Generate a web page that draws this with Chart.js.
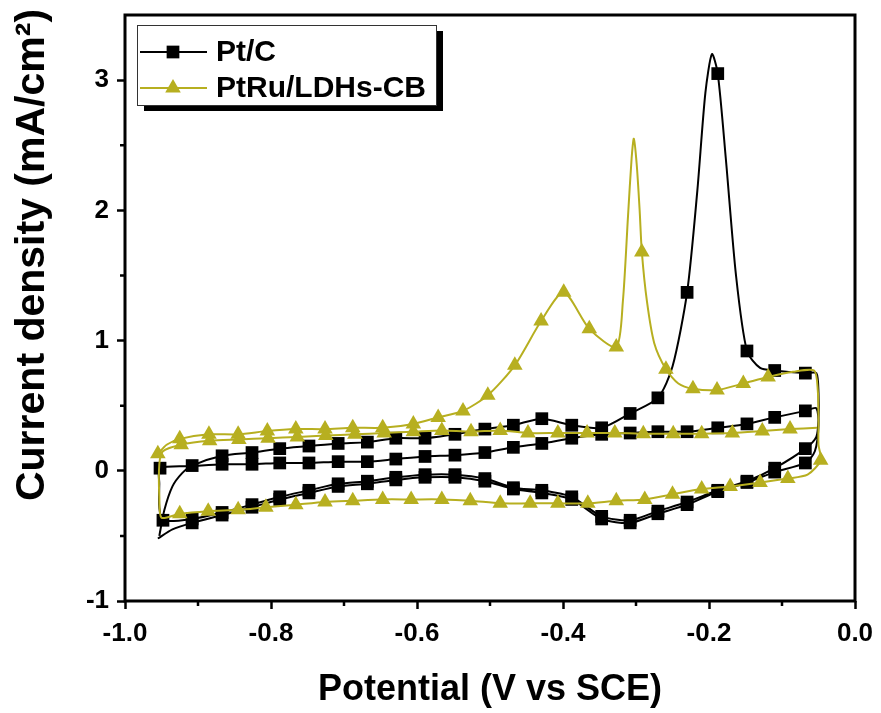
<!DOCTYPE html>
<html>
<head>
<meta charset="utf-8">
<script src="https://cdn.jsdelivr.net/npm/chart.js@4.4.0/dist/chart.umd.min.js"></script>
<style>
html,body{margin:0;padding:0;background:#fff;}
#wrap{width:881px;height:713px;position:relative;}
</style>
</head>
<body>
<div id="wrap"><canvas id="c" width="881" height="713"></canvas></div>
<script>
// ---------- data ----------
const seriesNames = ['Pt/C', 'PtRu/LDHs-CB'];
const xTitle = 'Potential (V vs SCE)';
const yTitle = 'Current density (mA/cm\u00B2)';
const xTicks = [-1.0, -0.8, -0.6, -0.4, -0.2, 0.0];
const xTickLabels = ['-1.0', '-0.8', '-0.6', '-0.4', '-0.2', '0.0'];
const yTicks = [-1, 0, 1, 2, 3];
const yTickLabels = ['-1', '0', '1', '2', '3'];
const xMinorTicks = [-0.9, -0.7, -0.5, -0.3, -0.1];
const yMinorTicks = [-0.5, 0.5, 1.5, 2.5];

// Pt/C : potential (V), current density (mA/cm2), 1 = symbol drawn at this sample
const ptcV = [-0.953,-0.946,-0.935,-0.922,-0.908,-0.867,-0.826,-0.788,-0.748,-0.708,-0.668,-0.629,-0.589,-0.548,-0.507,-0.468,-0.429,-0.388,-0.347,-0.308,-0.270,-0.250,-0.230,-0.216,-0.205,-0.196,-0.188,-0.177,-0.163,-0.148,-0.130,-0.110,-0.068,-0.053,-0.050,-0.050,-0.053,-0.068,-0.110,-0.148,-0.188,-0.230,-0.270,-0.308,-0.347,-0.388,-0.429,-0.468,-0.507,-0.548,-0.589,-0.629,-0.668,-0.708,-0.748,-0.788,-0.826,-0.867,-0.908,-0.948,-0.953,-0.953,-0.952,
  -0.908,-0.867,-0.826,-0.788,-0.748,-0.708,-0.668,-0.629,-0.589,-0.548,-0.507,-0.468,-0.429,-0.388,-0.347,-0.308,-0.270,-0.230,-0.188,-0.148,-0.110,-0.068,-0.053,-0.050,-0.055,-0.068,
  -0.110,-0.148,-0.188,-0.230,-0.270,-0.308,-0.347,-0.388,-0.429,-0.468,-0.507,-0.548,-0.589,-0.629,-0.668,-0.708,-0.748,-0.788,-0.826,-0.867,-0.908,-0.935,-0.955];
const ptcJ = [-0.50,-0.30,-0.12,-0.02,0.04,0.115,0.14,0.17,0.19,0.21,0.22,0.25,0.25,0.28,0.32,0.35,0.40,0.35,0.33,0.44,0.56,0.80,1.37,2.15,2.90,3.20,3.05,2.40,1.50,0.92,0.79,0.77,0.75,0.75,0.60,0.40,0.26,0.17,0.02,-0.08,-0.15,-0.24,-0.31,-0.38,-0.35,-0.20,-0.15,-0.13,-0.06,-0.03,-0.03,-0.05,-0.08,-0.10,-0.15,-0.20,-0.26,-0.32,-0.37,-0.38,-0.28,-0.10,0.02,
  0.035,0.05,0.05,0.06,0.06,0.07,0.07,0.09,0.11,0.12,0.14,0.18,0.21,0.25,0.28,0.29,0.30,0.30,0.33,0.36,0.41,0.46,0.48,0.35,0.15,0.06,
  -0.01,-0.09,-0.16,-0.26,-0.33,-0.40,-0.37,-0.22,-0.17,-0.14,-0.08,-0.05,-0.05,-0.07,-0.10,-0.12,-0.17,-0.22,-0.28,-0.34,-0.40,-0.45,-0.52];
const ptcMark = [0,0,0,0,1,1,1,1,1,1,1,1,1,1,1,1,1,1,1,1,1,0,1,0,0,0,1,0,0,1,0,1,1,0,0,0,0,1,1,1,1,1,1,1,1,1,1,1,1,1,1,1,1,1,1,1,1,1,1,1,0,0,1,
  0,1,1,1,1,1,1,1,1,1,1,1,1,1,1,1,1,1,1,1,1,1,0,0,0,1,
  1,1,1,1,1,1,1,1,1,1,1,1,1,1,1,1,1,1,1,1,1,0,0];

// PtRu/LDHs-CB
const pruV = [-0.955,-0.943,-0.925,-0.885,-0.845,-0.805,-0.766,-0.726,-0.688,-0.647,-0.605,-0.571,-0.537,-0.503,-0.466,-0.430,-0.399,-0.364,-0.327,-0.318,-0.311,-0.306,-0.303,-0.299,-0.295,-0.292,-0.285,-0.275,-0.259,-0.242,-0.222,-0.189,-0.153,-0.119,-0.085,-0.056,-0.051,-0.050,-0.050,-0.047,
  -0.065,-0.092,-0.130,-0.171,-0.210,-0.250,-0.288,-0.327,-0.366,-0.407,-0.445,-0.486,-0.527,-0.566,-0.608,-0.647,-0.688,-0.726,-0.766,-0.807,-0.845,-0.886,-0.925,-0.950,-0.953,-0.953,-0.948,
  -0.923,-0.884,-0.844,-0.804,-0.764,-0.725,-0.685,-0.645,-0.605,-0.566,-0.526,-0.486,-0.448,-0.407,-0.367,-0.329,-0.290,-0.249,-0.210,-0.168,-0.127,-0.089,-0.052];
const pruJ = [0.13,0.20,0.245,0.28,0.28,0.305,0.32,0.32,0.33,0.33,0.36,0.41,0.46,0.58,0.81,1.15,1.37,1.09,0.95,1.30,1.95,2.40,2.55,2.35,2.00,1.68,1.30,0.98,0.78,0.67,0.63,0.62,0.67,0.72,0.76,0.77,0.62,0.40,0.20,0.08,
  -0.03,-0.06,-0.09,-0.12,-0.14,-0.18,-0.22,-0.23,-0.25,-0.25,-0.25,-0.25,-0.23,-0.22,-0.22,-0.22,-0.23,-0.24,-0.26,-0.28,-0.30,-0.31,-0.33,-0.36,-0.20,0.05,0.15,
  0.20,0.23,0.24,0.25,0.26,0.27,0.28,0.29,0.30,0.31,0.30,0.31,0.29,0.29,0.29,0.29,0.285,0.285,0.285,0.29,0.305,0.32,0.33];
const pruMark = [1,0,1,1,1,1,1,1,1,1,1,1,1,1,1,1,1,1,1,0,0,0,0,0,0,1,0,0,1,0,1,1,1,1,0,0,0,0,0,1,
  0,1,1,1,1,1,1,1,1,1,1,1,1,1,1,1,1,1,1,1,1,1,1,0,0,0,0,
  1,1,1,1,1,1,1,1,1,1,1,1,1,1,1,1,1,1,1,1,1,1,0];

// ---------- styling ----------
const FONT = "'Liberation Sans', Arial, Helvetica, sans-serif";
const BLACK = '#000000';
const OLIVE = '#B7AF20';
const colors = [BLACK, OLIVE];
const styles = ['rect', 'triangle'];
const radii = [9, 9];

function pts(V, J) { return V.map((v, i) => ({ x: v, y: J[i] })); }

function drawMarker(ctx, style, x, y, r, color) {
  ctx.save();
  ctx.fillStyle = color;
  ctx.beginPath();
  if (style === 'rect') {
    const s = Math.SQRT1_2 * r;
    ctx.rect(x - s, y - s, 2 * s, 2 * s);
  } else {
    const h = r * 1.5, w = r * Math.sqrt(3);
    ctx.moveTo(x, y - r);
    ctx.lineTo(x + w / 2, y - r + h);
    ctx.lineTo(x - w / 2, y - r + h);
    ctx.closePath();
  }
  ctx.fill();
  ctx.restore();
}

const decor = {
  id: 'decor',
  afterDraw(chart) {
    const { ctx, chartArea: a, scales } = chart;
    ctx.save();
    // frame
    ctx.strokeStyle = '#000';
    ctx.lineWidth = 3;
    ctx.strokeRect(a.left, a.top, a.right - a.left, a.bottom - a.top);
    // minor ticks
    ctx.lineWidth = 2.5;
    ctx.beginPath();
    xMinorTicks.forEach(v => { const px = scales.x.getPixelForValue(v); ctx.moveTo(px, a.bottom); ctx.lineTo(px, a.bottom + 5); });
    yMinorTicks.forEach(v => { const py = scales.y.getPixelForValue(v); ctx.moveTo(a.left, py); ctx.lineTo(a.left - 5, py); });
    ctx.stroke();
    // axis titles
    ctx.fillStyle = '#000';
    ctx.font = "bold 36px " + FONT;
    ctx.textAlign = 'center';
    ctx.textBaseline = 'alphabetic';
    ctx.fillText(xTitle, (a.left + a.right) / 2, 700);
    ctx.save();
    ctx.translate(44, 255);
    ctx.rotate(-Math.PI / 2);
    ctx.font = "bold 41px " + FONT;
    ctx.fillText(yTitle, 0, 0);
    ctx.restore();
    // legend
    const bx = 137, by = 25, bw = 299, bh = 80;
    ctx.fillStyle = '#000';
    ctx.fillRect(bx + 7, by + 6, bw, bh);
    ctx.fillStyle = '#fff';
    ctx.fillRect(bx, by, bw, bh);
    ctx.strokeStyle = '#333';
    ctx.lineWidth = 1;
    ctx.strokeRect(bx + 0.5, by + 0.5, bw, bh);
    const rows = [52, 88];
    ctx.font = "bold 30px " + FONT;
    ctx.textAlign = 'left';
    ctx.textBaseline = 'middle';
    rows.forEach((ry, i) => {
      ctx.strokeStyle = colors[i];
      ctx.lineWidth = 2;
      ctx.beginPath();
      ctx.moveTo(140, ry); ctx.lineTo(207, ry); ctx.stroke();
      drawMarker(ctx, styles[i], 173, ry, radii[i], colors[i]);
      ctx.fillStyle = '#000';
      ctx.fillText(seriesNames[i], 216, ry + 1);
    });
    ctx.restore();
  }
};

function ds(i, V, J, M) {
  return {
    label: seriesNames[i],
    data: pts(V, J),
    showLine: true,
    borderColor: colors[i],
    backgroundColor: colors[i],
    borderWidth: 2,
    tension: 0.25,
    pointStyle: styles[i],
    pointRadius: c => (M[c.dataIndex] ? radii[i] : 0),
    pointHoverRadius: c => (M[c.dataIndex] ? radii[i] : 0),
    pointBackgroundColor: colors[i],
    pointBorderColor: colors[i],
    pointBorderWidth: 0,
    order: i === 0 ? 1 : 0
  };
}

new Chart(document.getElementById('c'), {
  type: 'scatter',
  data: {
    datasets: [
      ds(0, ptcV, ptcJ, ptcMark),
      ds(1, pruV, pruJ, pruMark)
    ]
  },
  options: {
    responsive: false,
    animation: false,
    devicePixelRatio: 1,
    events: [],
    layout: { padding: { left: 0, right: 26, top: 15, bottom: 0 } },
    plugins: { legend: { display: false }, tooltip: { enabled: false } },
    scales: {
      x: {
        type: 'linear', min: -1, max: 0,
        afterBuildTicks: s => { s.ticks = xTicks.map(v => ({ value: v })); },
        afterFit: s => { s.height = 112; s.paddingLeft = 0; s.paddingRight = 0; },
        border: { display: false },
        grid: { display: true, drawOnChartArea: false, drawTicks: true, tickLength: 8, tickWidth: 2.5, tickColor: '#000' },
        ticks: { color: '#000', font: { family: FONT, size: 26, weight: 'bold' }, padding: 9, maxRotation: 0, autoSkip: false,
                 callback: (v, i) => xTickLabels[i] }
      },
      y: {
        type: 'linear', min: -1, max: 3.5,
        afterBuildTicks: s => { s.ticks = yTicks.map(v => ({ value: v })); },
        afterFit: s => { s.width = 125; s.paddingTop = 0; s.paddingBottom = 0; },
        border: { display: false },
        grid: { display: true, drawOnChartArea: false, drawTicks: true, tickLength: 8, tickWidth: 2.5, tickColor: '#000' },
        ticks: { color: '#000', font: { family: FONT, size: 26, weight: 'bold' }, padding: 8, autoSkip: false,
                 callback: (v, i) => yTickLabels[i] }
      }
    }
  },
  plugins: [decor]
});
</script>
</body>
</html>
